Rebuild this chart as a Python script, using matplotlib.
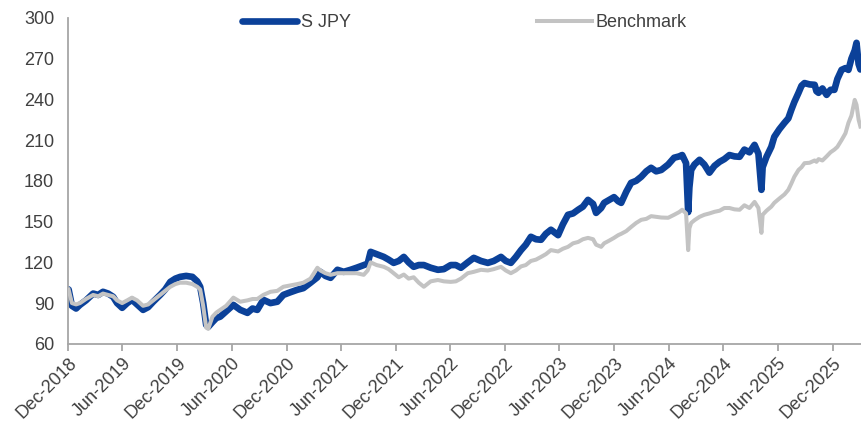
import numpy as np
import pandas as pd
import matplotlib
matplotlib.use("Agg")
import matplotlib.pyplot as plt

plt.rcParams['font.family'] = ['Liberation Sans', 'DejaVu Sans']

# --- data (index level, start = 100) ---
dates = [
    "2018-12-03", "2018-12-14", "2018-12-28", "2019-01-10", "2019-01-30", "2019-02-23",
    "2019-03-12", "2019-03-28", "2019-04-14", "2019-05-01", "2019-05-14", "2019-05-31",
    "2019-06-17", "2019-07-03", "2019-07-20", "2019-08-09", "2019-08-26", "2019-09-12",
    "2019-10-05", "2019-10-22", "2019-11-08", "2019-11-25", "2019-12-11", "2019-12-31",
    "2020-01-21", "2020-02-06", "2020-02-16", "2020-02-26", "2020-03-07", "2020-03-14",
    "2020-03-28", "2020-04-10", "2020-04-23", "2020-05-13", "2020-06-06", "2020-06-29",
    "2020-07-23", "2020-08-09", "2020-08-25", "2020-09-14", "2020-10-08", "2020-10-31",
    "2020-11-20", "2020-12-14", "2021-01-06", "2021-01-26", "2021-02-19", "2021-03-14",
    "2021-03-24", "2021-04-10", "2021-04-27", "2021-05-20", "2021-06-10", "2021-07-03",
    "2021-07-23", "2021-08-16", "2021-08-29", "2021-09-08", "2021-09-28", "2021-10-22",
    "2021-11-07", "2021-11-24", "2021-12-11", "2021-12-28", "2022-01-13", "2022-01-30",
    "2022-02-16", "2022-03-05", "2022-03-28", "2022-04-21", "2022-05-11", "2022-06-03",
    "2022-06-20", "2022-07-07", "2022-07-30", "2022-08-19", "2022-09-12", "2022-10-05",
    "2022-10-25", "2022-11-18", "2022-12-04", "2022-12-21", "2023-01-07", "2023-01-24",
    "2023-02-09", "2023-02-26", "2023-03-15", "2023-04-01", "2023-04-17", "2023-05-04",
    "2023-05-28", "2023-06-13", "2023-06-30", "2023-07-17", "2023-08-03", "2023-08-19",
    "2023-09-05", "2023-09-22", "2023-10-02", "2023-10-19", "2023-10-29", "2023-11-15",
    "2023-12-01", "2023-12-15", "2023-12-25", "2024-01-11", "2024-01-27", "2024-02-13",
    "2024-03-01", "2024-03-18", "2024-04-03", "2024-04-20", "2024-05-07", "2024-05-30",
    "2024-06-19", "2024-07-06", "2024-07-16", "2024-07-29", "2024-08-05", "2024-08-09",
    "2024-08-15", "2024-08-26", "2024-09-12", "2024-09-28", "2024-10-15", "2024-11-01",
    "2024-11-18", "2024-12-04", "2024-12-21", "2025-01-07", "2025-01-24", "2025-02-09",
    "2025-02-26", "2025-03-15", "2025-03-28", "2025-04-07", "2025-04-11", "2025-04-24",
    "2025-05-10", "2025-05-20", "2025-06-06", "2025-06-23", "2025-07-06", "2025-07-16",
    "2025-07-26", "2025-08-09", "2025-08-19", "2025-08-29", "2025-09-15", "2025-10-02",
    "2025-10-08", "2025-10-15", "2025-10-28", "2025-11-11", "2025-11-24", "2025-12-07",
    "2025-12-17", "2025-12-31", "2026-01-13", "2026-01-23", "2026-02-02", "2026-02-13",
    "2026-02-19", "2026-02-26", "2026-03-04",
]

s_jpy = [
    100, 88, 86, 88.7, 92, 97, 96, 98.3, 97, 94.6, 90, 86.5,
    90, 92.4, 89, 85, 87, 91, 96, 100, 105.6, 108, 109.3, 110,
    109.3, 106, 102, 90, 74, 72.5, 76, 79, 80, 84, 88.7, 85,
    82.8, 86, 85, 92.4, 90, 91, 96, 98, 99.8, 101, 105, 109,
    113, 110, 108.6, 114.5, 113, 114.5, 116, 118, 119, 127.7, 126, 124,
    122, 119.6, 121, 124, 120, 116.7, 118, 118, 116, 114.5, 115, 118,
    118, 116, 120, 123.3, 121, 119.6, 121, 124, 121, 119.6, 124, 129,
    133, 138.8, 137, 136.6, 141, 144, 140, 148, 155, 156, 158.7, 161,
    166, 163, 156.4, 160, 163.8, 166, 168, 165, 163.8, 172, 178.5, 180,
    183, 187, 189.6, 187, 188, 192, 197, 198, 199, 193, 157, 175,
    188, 192, 195.5, 192, 186, 191, 194, 196, 199, 198, 197.7, 203,
    201, 206.5, 200, 173.4, 190, 197.7, 205, 212.4, 218, 222.7, 226, 232.3,
    238, 244.8, 250, 252, 251, 250.7, 246, 244.8, 248, 243.3, 247, 247,
    255, 261.7, 263, 261.7, 270, 276, 281.6, 266, 262,
]

benchmark = [
    100, 90, 89, 90, 93, 96, 95, 97, 96, 95, 92, 90,
    92, 94, 92, 88, 89, 92, 96, 99, 102, 104, 105, 105,
    104, 102, 100, 88, 72, 71, 80, 83, 85, 88, 94, 91,
    92, 93, 93, 96, 98.3, 99, 102, 103, 104, 105, 108, 116,
    114, 112, 110.8, 112, 112, 112, 112, 110.8, 114, 120, 118, 116.7,
    115, 112, 109, 111, 108, 109, 105, 102, 106, 107, 106, 105.6,
    106, 108, 112, 113, 114.5, 114, 115, 116.7, 114, 112, 114, 117,
    118, 121, 122, 124, 126, 129, 128, 130, 131.4, 134, 135, 137,
    138, 137, 133, 131.4, 134, 136, 138, 140, 141, 143, 146, 149,
    151.3, 152, 154, 153.5, 153, 152.8, 155, 157, 158.7, 156, 129, 145,
    149, 151, 153.5, 155, 156, 157.2, 158, 160, 160, 159, 158.7, 162,
    160, 164.5, 160, 141.7, 155, 158, 161, 163.8, 167, 170, 173.4, 178,
    183, 188, 190, 193, 193.3, 195, 194, 196, 195, 198, 201, 203,
    205, 210, 215, 222.7, 228, 239.6, 236, 225, 220,
]

tick_labels = ["Dec-2018", "Jun-2019", "Dec-2019", "Jun-2020", "Dec-2020",
               "Jun-2021", "Dec-2021", "Jun-2022", "Dec-2022", "Jun-2023",
               "Dec-2023", "Jun-2024", "Dec-2024", "Jun-2025", "Dec-2025"]

x = pd.to_datetime(dates)
tick_pos = pd.to_datetime(tick_labels, format="%b-%Y")

# --- figure ---
fig = plt.figure(figsize=(8.61, 4.25), dpi=100)
ax = fig.add_axes([0.079, 0.191, 0.921, 0.767])

blue = "#0B4199"
grey = "#C3C3C3"
text_col = "#404040"
axis_col = "#A6A6A6"

ax.plot(x, s_jpy, color=blue, lw=4.8, solid_joinstyle="round",
        solid_capstyle="round", label="S JPY", zorder=2)
ax.plot(x, benchmark, color=grey, lw=2.9, solid_joinstyle="round",
        label="Benchmark", zorder=3)

ax.set_ylim(60, 300)
ax.set_yticks(np.arange(60, 301, 30))
ax.set_xlim(pd.Timestamp("2018-12-01"), pd.Timestamp("2026-03-06"))
ax.set_xticks(tick_pos)
ax.set_xticklabels(tick_labels, rotation=45, ha="right", va="top",
                   rotation_mode="anchor")

for s in ["top", "right"]:
    ax.spines[s].set_visible(False)
for s in ["left", "bottom"]:
    ax.spines[s].set_color(axis_col)
    ax.spines[s].set_linewidth(1.3)

ax.tick_params(axis="x", length=5, width=1.3, color=axis_col,
               labelsize=13, labelcolor=text_col, pad=3)
ax.tick_params(axis="y", length=0, labelsize=13, labelcolor=text_col, pad=10)

# legend along the top
leg = fig.legend(loc="center", bbox_to_anchor=(0.539, 0.947), ncol=2,
                 frameon=False, fontsize=13, handlelength=3.05,
                 handletextpad=0.2, columnspacing=10.3)
for t in leg.get_texts():
    t.set_color(text_col)

fig.savefig("out.png", dpi=100)
